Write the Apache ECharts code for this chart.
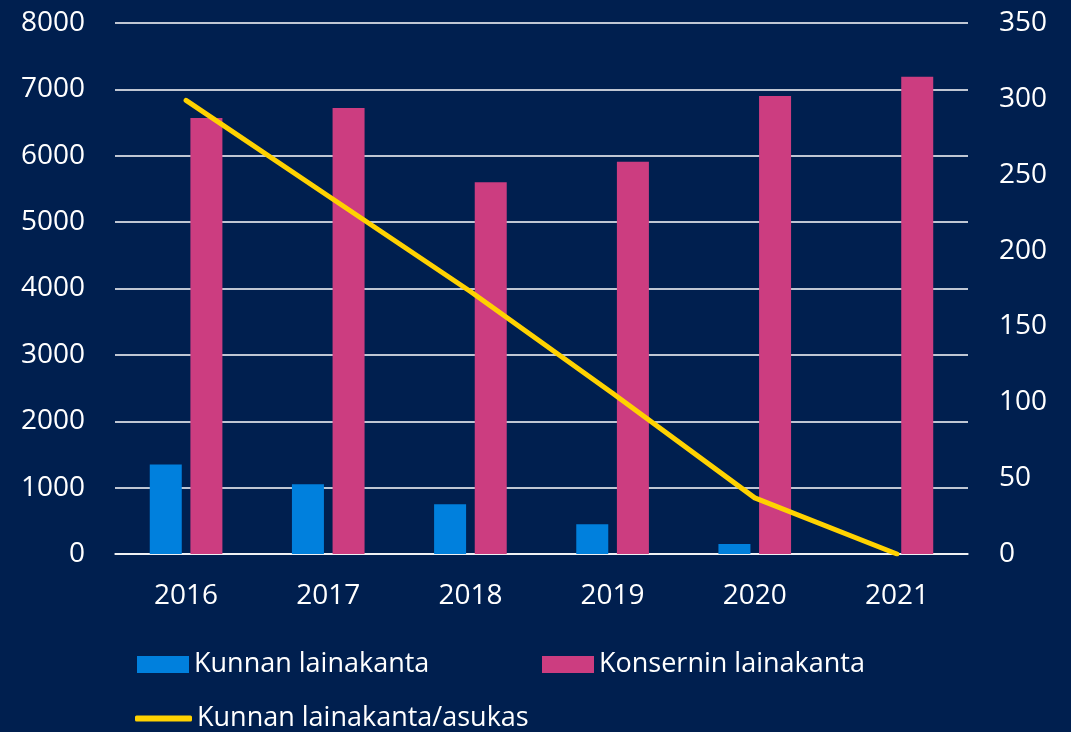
<!DOCTYPE html>
<html>
<head>
<meta charset="utf-8">
<script src="https://cdn.jsdelivr.net/npm/echarts@6/dist/echarts.min.js"></script>
<style>
html,body{margin:0;padding:0;background:#001F4F;}
#c{width:1071px;height:732px;}
</style>
</head>
<body>
<div id="c"></div>
<script>
const categories = ['2016', '2017', '2018', '2019', '2020', '2021'];
const kunnanLainakanta = [1350, 1050, 750, 450, 150, 0];
const konserninLainakanta = [6570, 6720, 5600, 5910, 6900, 7190];
const lainakantaPerAsukas = [299, 236, 173, 106, 37, 0];
const names = ['Kunnan lainakanta', 'Konsernin lainakanta', 'Kunnan lainakanta/asukas'];

const font = '"Open Sans", sans-serif';
const chart = echarts.init(document.getElementById('c'), null, {renderer: 'canvas'});
const legendText = {color: '#ffffff', fontSize: 27, fontFamily: font};
chart.setOption({
  backgroundColor: '#001F4F',
  animation: false,
  grid: {left: 115, right: 103, top: 23, bottom: 178, containLabel: false},
  legend: [
    {data: [names[0]], left: 137, top: 651, padding: 0, itemWidth: 52, itemHeight: 17, itemGap: 0, textStyle: legendText, icon: 'rect'},
    {data: [names[1]], left: 542, top: 651, padding: 0, itemWidth: 52, itemHeight: 17, itemGap: 0, textStyle: legendText, icon: 'rect'},
    {data: [{name: names[2], icon: 'roundRect', itemStyle: {color: '#FFD200'}}], left: 135, top: 705, padding: 0, itemWidth: 57, itemHeight: 6, itemGap: 0, textStyle: legendText}
  ],
  xAxis: {
    type: 'category',
    data: categories,
    axisLine: {show: true, lineStyle: {color: '#ffffff', width: 1.5}},
    axisTick: {show: false},
    axisLabel: {color: '#ffffff', fontSize: 28, fontFamily: font, margin: 28}
  },
  yAxis: [
    {
      type: 'value', min: 0, max: 8000, interval: 1000,
      axisLine: {show: false}, axisTick: {show: false},
      splitLine: {lineStyle: {color: '#ffffff', width: 1.5}},
      axisLabel: {color: '#ffffff', fontSize: 28, fontFamily: font, margin: 30, formatter: v => String(v)}
    },
    {
      type: 'value', min: 0, max: 350, interval: 50,
      axisLine: {show: false}, axisTick: {show: false},
      splitLine: {show: false},
      axisLabel: {color: '#ffffff', fontSize: 28, fontFamily: font, margin: 31, formatter: v => String(v)}
    }
  ],
  series: [
    {name: names[0], type: 'bar', data: kunnanLainakanta, barWidth: 32, barGap: '27%', itemStyle: {color: '#0080DD'}},
    {name: names[1], type: 'bar', data: konserninLainakanta, barWidth: 32, barGap: '27%', itemStyle: {color: '#CC3D80'}},
    {name: names[2], type: 'line', yAxisIndex: 1, data: lainakantaPerAsukas, showSymbol: false, symbol: 'none',
     lineStyle: {color: '#FFD200', width: 5, cap: 'round', join: 'round'}, itemStyle: {color: '#FFD200'}, z: 5}
  ]
});
</script>
</body>
</html>
